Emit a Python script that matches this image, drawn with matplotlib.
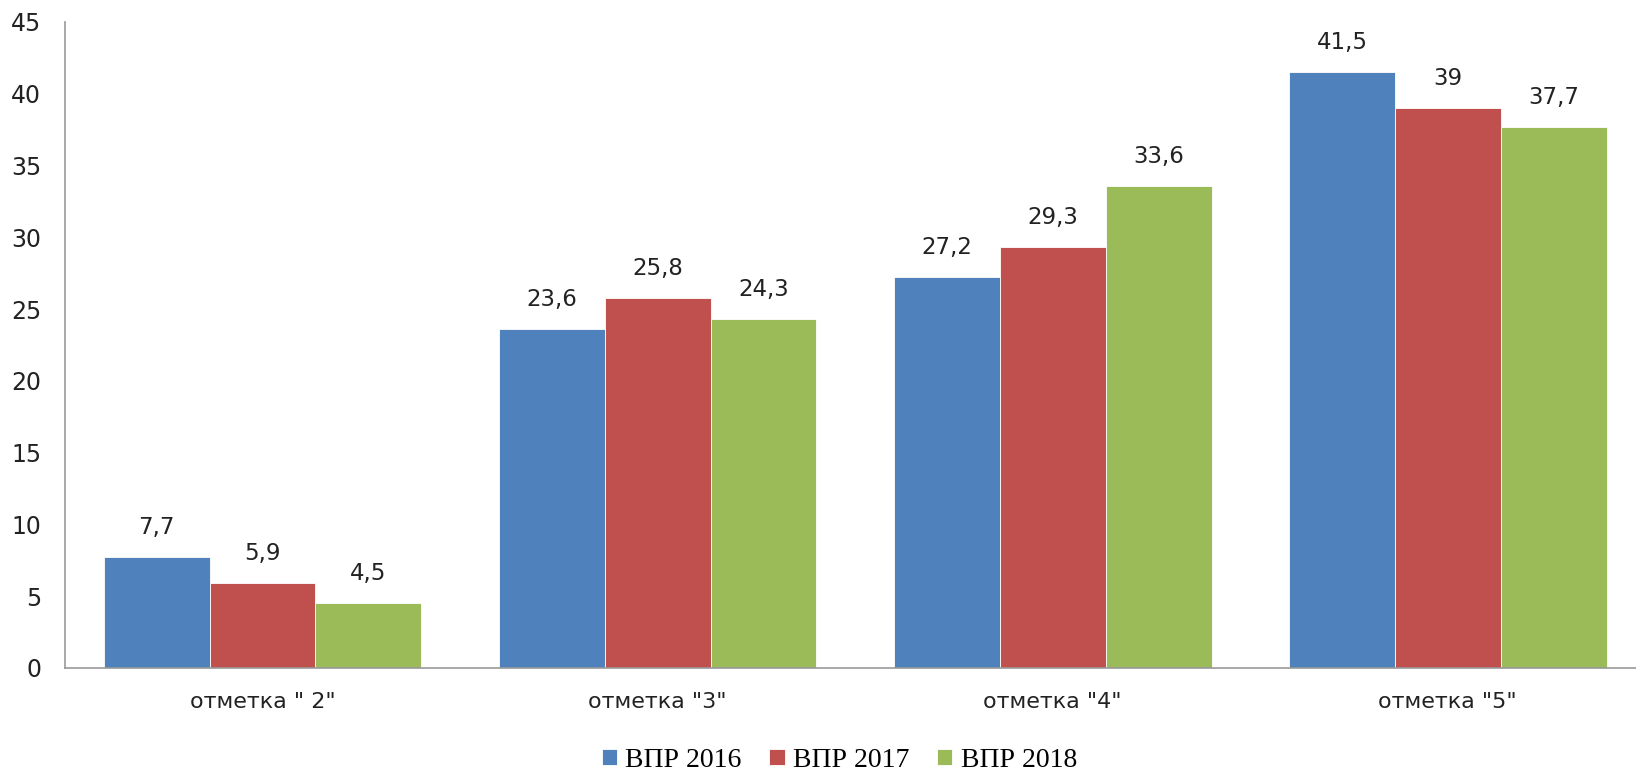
import matplotlib.pyplot as plt
import numpy as np

categories = ['отметка " 2"', 'отметка "3"', 'отметка "4"', 'отметка "5"']
series_names = ['ВПР 2016', 'ВПР 2017', 'ВПР 2018']
vpr_2016 = [7.7, 23.6, 27.2, 41.5]
vpr_2017 = [5.9, 25.8, 29.3, 39]
vpr_2018 = [4.5, 24.3, 33.6, 37.7]
colors = ['#4F81BD', '#C0504D', '#9BBB59']

fig = plt.figure(figsize=(16.36, 7.71), dpi=100)
ax = fig.add_axes([0.0397, 0.1336, 0.966, 0.838])

x = np.arange(len(categories))
width = 0.268
offsets = [-width, 0, width]

for vals, name, col, off in zip([vpr_2016, vpr_2017, vpr_2018], series_names, colors, offsets):
    bars = ax.bar(x + off, vals, width, color=col, label=name, edgecolor='white', linewidth=0.6)
    for b, v in zip(bars, vals):
        txt = f'{v:g}'.replace('.', ',')
        ax.annotate(txt, xy=(b.get_x() + b.get_width() / 2, v), xytext=(0, 13),
                    textcoords='offset points', ha='center', va='bottom',
                    fontsize=16.5, color='#222222')

ax.set_xlim(-0.5, 3.5)
ax.set_ylim(0, 45)
ax.set_yticks(np.arange(0, 46, 5))
ax.set_xticks(x)
ax.set_xticklabels(categories)
ax.tick_params(axis='y', length=0, pad=17, labelsize=17, labelcolor='#222222')
ax.tick_params(axis='x', length=0, pad=17, labelsize=16, labelcolor='#222222')

for s in ['top', 'right']:
    ax.spines[s].set_visible(False)
for s in ['left', 'bottom']:
    ax.spines[s].set_color('#999999')
    ax.spines[s].set_linewidth(1.2)

fig.legend(loc='center', bbox_to_anchor=(0.513, 0.014), ncol=3, frameon=False,
           prop={'family': 'Liberation Serif', 'size': 20},
           handlelength=0.55, handleheight=0.55, handletextpad=0.3, columnspacing=1.0)

plt.savefig('out.png', dpi=100)
plt.close()
